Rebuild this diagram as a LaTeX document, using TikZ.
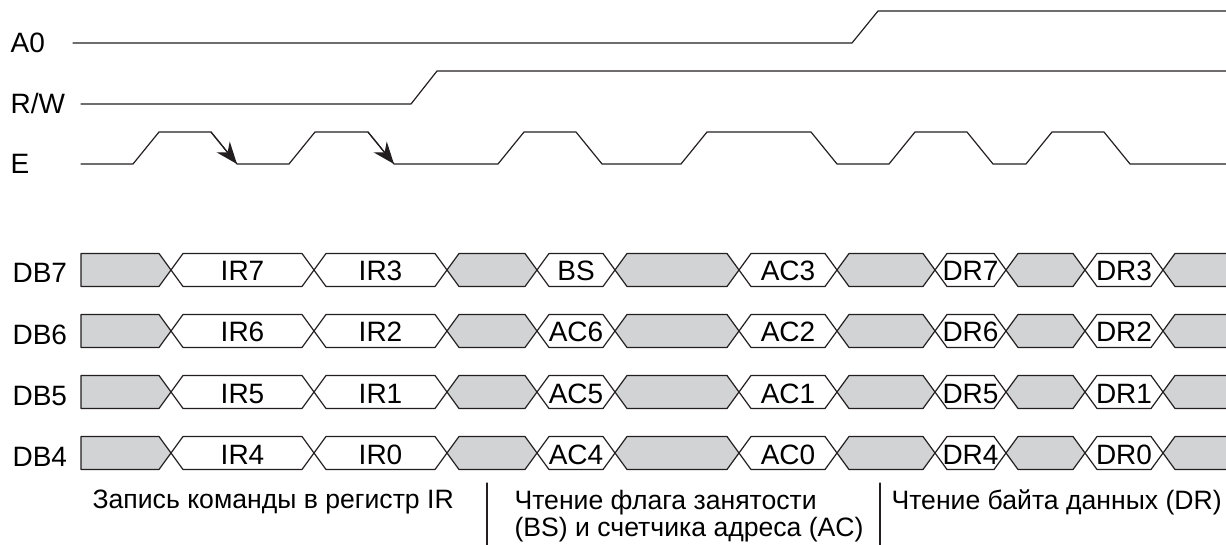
\documentclass[tikz,border=0pt]{standalone}
\usepackage{fontspec}
\setmainfont{Liberation Sans}
\usetikzlibrary{arrows.meta}
\definecolor{busgrey}{RGB}{209,211,212}
\definecolor{wire}{RGB}{35,31,32}
\begin{document}
\begin{tikzpicture}[x=0.5pt, y=-0.5pt, line width=0.6pt, line join=round, line cap=round, draw=wire,
		>={Stealth[length=11pt,width=8.5pt]}, font=\fontsize{14}{13.5}\selectfont,
		lbl/.style={anchor=base west, inner sep=0pt},
		txt/.style={anchor=base, inner sep=0pt},
		note/.style={anchor=west, inner sep=0pt, align=left, font=\fontsize{13.3}{13.5}\selectfont}]
			\useasboundingbox (0,0) rectangle (1226,545);
			% signal names
			\node[lbl] (a0) at (10,53) {A0};
			\node[lbl] (rw) at (10,114) {R/W};
			\node[lbl] (en) at (10,174) {E};
			% A0, R/W, E
			\draw[wire] (73,43)--(852,43)--(878,11)--(1226,11);
			\draw[wire] (81,104)--(411,104)--(437,71)--(1226,71);
			\draw[wire] (81,164) foreach \r/\f in {133/211, 289/368, 498/576, 681/811, 889/967, 1026/1104} {--(\r,164)--(\r+26,132)--(\f,132)--(\f+26,164)} --(1226,164);
			\coordinate (f1) at (211,132); \coordinate (f1e) at (237,164);
			\coordinate (f2) at (368,132); \coordinate (f2e) at (394,164);
			\draw[->, wire] (f1)--(f1e);
			\draw[->, wire] (f2)--(f2e);
			% data bus DB7..DB4
			\foreach \n/\y/\p/\q/\r/\s/\t/\u in {7/270/IR7/IR3/BS/AC3/DR7/DR3, 6/331/IR6/IR2/AC6/AC2/DR6/DR2, 5/392/IR5/IR1/AC5/AC1/DR5/DR1, 4/453/IR4/IR0/AC4/AC0/DR4/DR0}{
				\node[lbl] (db\n) at (12,\y+13) {DB\n};
				\filldraw[wire, fill=busgrey] (81,\y-16.5)--(159,\y-16.5)--(171,\y)--(159,\y+16.5)--(81,\y+16.5)--cycle;
				\foreach \a/\b in {447/537, 615/739, 837/935, 1006/1085}
					\filldraw[wire, fill=busgrey] (\a,\y)--(\a+12,\y-16.5)--(\b-12,\y-16.5)--(\b,\y)--(\b-12,\y+16.5)--(\a+12,\y+16.5)--cycle;
				\foreach \a/\b/\l [count=\k] in {171/314/\p, 314/447/\q, 537/615/\r, 739/837/\s, 935/1006/\t, 1085/1163/\u}{
					\filldraw[wire, fill=white] (\a,\y)--(\a+12,\y-16.5)--(\b-12,\y-16.5)--(\b,\y)--(\b-12,\y+16.5)--(\a+12,\y+16.5)--cycle;
					\node[txt] (v\n-\k) at ({(\a+\b)/2},\y+11) {\l};
				}
				\fill[busgrey] (1163,\y)--(1175,\y-16.5)--(1226,\y-16.5)--(1226,\y+16.5)--(1175,\y+16.5)--cycle;
				\draw[wire] (1226,\y-16.5)--(1175,\y-16.5)--(1163,\y)--(1175,\y+16.5)--(1226,\y+16.5);
			}
			% phases
			\draw[wire] (487,483)--(487,545) (880,483)--(880,545);
			\node[note] (wr) at (92,502) {Запись команды в регистр IR};
			\node[note] (bs) at (514,516) {Чтение флага занятости\\(BS) и счетчика адреса (AC)};
			\node[note] (dr) at (891,502) {Чтение байта данных (DR)};
		\end{tikzpicture}
\end{document}
